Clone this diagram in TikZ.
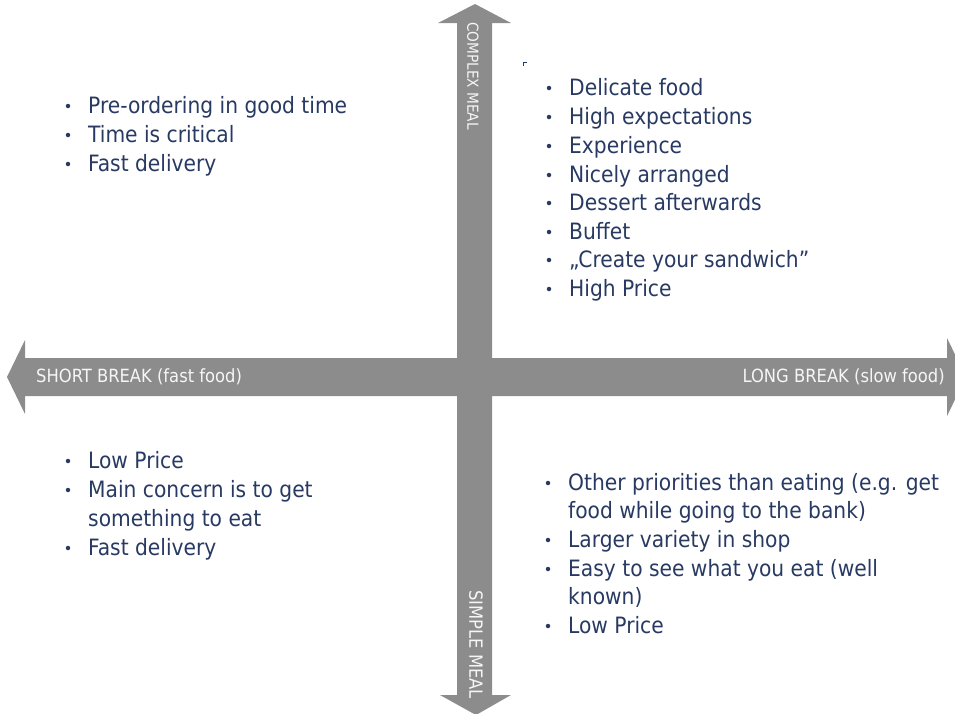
\documentclass[tikz,border=0pt]{standalone}
\usepackage{fontspec}
\setmainfont{DejaVu Sans Condensed}
\definecolor{navy}{RGB}{40,58,98}
\definecolor{axisgray}{RGB}{140,140,140}
\definecolor{lblwhite}{RGB}{246,246,246}
\newcommand\bitem[4]{%
  \node[bul] (#1b) at (#2-20,#3-7) {};
  \node[txt] (#1) at (#2,#3) {#4};}
\newcommand\citem[4]{%
  \node[txt] (#1) at (#2,#3) {#4};}
\begin{document}
\begin{tikzpicture}[x=1pt,y=-1pt,
  txt/.style={anchor=base west, inner sep=0pt, text=navy, font=\fontsize{22.5}{27}\selectfont},
  lbl/.style={inner sep=0pt, text=lblwhite, font=\fontsize{18.2}{20}\selectfont},
  bul/.style={circle, fill=navy, inner sep=0pt, minimum size=4.5pt}]
\clip (0,0) rectangle (955,713);
% axes
\fill[axisgray] (457,23) -- (438,23) -- (475,4) -- (511,23) -- (492,23) -- (492,358)
  -- (947,358) -- (947,338) -- (966,377) -- (947,416) -- (947,396) -- (492,396)
  -- (492,695) -- (511,695) -- (476,715) -- (440,695) -- (457,695) -- (457,396)
  -- (25,396) -- (25,414) -- (7,377) -- (25,340) -- (25,358) -- (457,358) -- cycle;
\node[lbl, anchor=west] (short) at (36,377) {SHORT BREAK (fast food)};
\node[lbl, anchor=east] (long) at (945,377) {LONG BREAK (slow food)};
\node[lbl, rotate=-90, anchor=west, font=\fontsize{15.2}{17}\selectfont] (complex) at (473,22) {COMPLEX MEAL};
\node[lbl, rotate=-90, anchor=west] (simple) at (476,590) {SIMPLE MEAL};
% small corner mark
\draw[navy, line width=0.8pt] (523,66) -- (523,62) -- (527,62);
% top left
\bitem{tl1}{88}{113}{Pre-ordering in good time}
\bitem{tl2}{88}{142}{Time is critical}
\bitem{tl3}{88}{171}{Fast delivery}
% top right
\bitem{tr1}{569}{95}{Delicate food}
\bitem{tr2}{569}{124}{High expectations}
\bitem{tr3}{569}{153}{Experience}
\bitem{tr4}{569}{182}{Nicely arranged}
\bitem{tr5}{569}{210}{Dessert afterwards}
\bitem{tr6}{569}{239}{Buffet}
\bitem{tr7}{569}{267}{„Create your sandwich”}
\bitem{tr8}{569}{296}{High Price}
% bottom left
\bitem{bl1}{88}{468}{Low Price}
\bitem{bl2}{88}{497}{Main concern is to get}
\citem{bl3}{88}{526}{something to eat}
\bitem{bl4}{88}{555}{Fast delivery}
% bottom right
\bitem{br1}{568}{490}{Other priorities than eating (e.g. get}
\citem{br2}{568}{518}{food while going to the bank)}
\bitem{br3}{568}{547}{Larger variety in shop}
\bitem{br4}{568}{576}{Easy to see what you eat (well}
\citem{br5}{568}{604}{known)}
\bitem{br6}{568}{633}{Low Price}
\end{tikzpicture}
\end{document}
